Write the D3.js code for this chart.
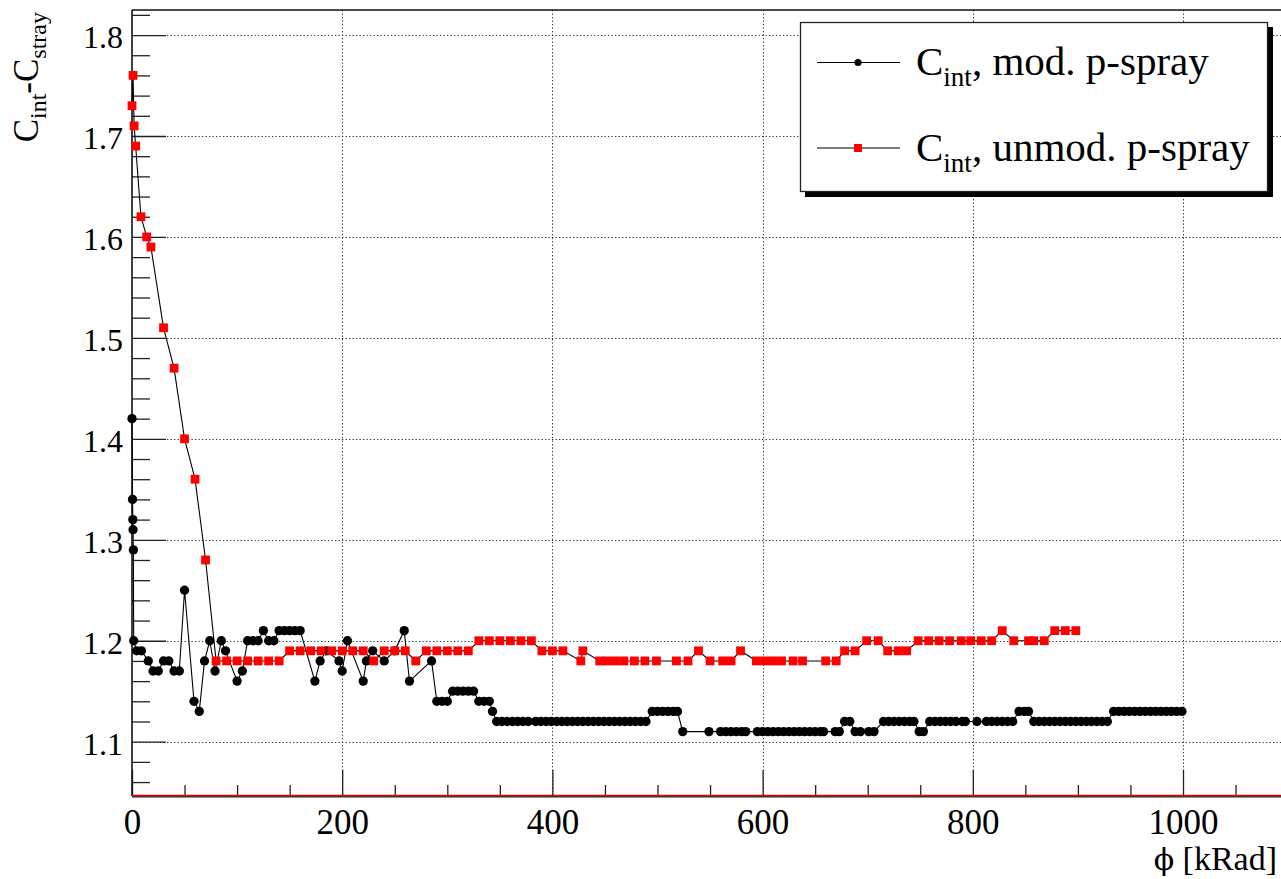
<!DOCTYPE html>
<html>
<head>
<meta charset="utf-8">
<script src="https://cdn.jsdelivr.net/npm/d3@7"></script>
<style>
  html, body { margin: 0; padding: 0; background: #fff; }
  svg { display: block; }
  text { font-family: "Liberation Serif", "Times New Roman", serif; fill: #000; }
</style>
</head>
<body>
<svg id="chart" width="1281" height="879"></svg>
<script>
// Interstrip capacitance vs. dose, modified p-spray sensor
const modDose = [0, 0.5, 0.8, 1, 1.3, 1.6, 4.5, 9, 15.5, 20, 25, 30, 35, 40, 45, 50, 59, 64, 69, 74, 79, 85, 89,
  100, 105, 110, 115, 120, 125, 130, 135, 140, 145, 150, 155, 160, 174, 179, 185, 197, 200, 205, 220, 223, 229,
  240, 250, 259, 264, 285, 290, 295, 300, 305, 310, 315, 320, 325, 330, 335, 340, 343, 347, 352, 357, 362, 367,
  372, 377, 384, 389, 394, 399, 404, 409, 414, 419, 424, 429, 434, 439, 444, 449, 454, 459, 464, 469, 474, 479,
  484, 489, 495, 500, 505, 510, 515, 519, 524, 549, 560, 565, 570, 575, 580, 584, 595, 600, 605, 610, 615, 620,
  625, 630, 635, 640, 645, 650, 655, 658, 669, 673, 678, 683, 688, 693, 701, 706, 715, 720, 725, 730, 735, 740,
  744, 749, 753, 759, 764, 769, 774, 779, 784, 790, 793, 804, 813, 818, 823, 828, 833, 838, 844, 849, 853, 858,
  863, 868, 873, 878, 883, 888, 893, 898, 903, 908, 913, 918, 923, 928, 934, 939, 944, 949, 954, 959, 964, 969,
  974, 979, 984, 989, 994, 999];
const modCint = [1.42, 1.34, 1.32, 1.31, 1.29, 1.20, 1.19, 1.19, 1.18, 1.17, 1.17, 1.18, 1.18, 1.17, 1.17, 1.25,
  1.14, 1.13, 1.18, 1.20, 1.17, 1.20, 1.19,
  1.16, 1.17, 1.20, 1.20, 1.20, 1.21, 1.20, 1.20, 1.21, 1.21, 1.21, 1.21, 1.21, 1.16, 1.18, 1.19, 1.18, 1.17,
  1.20, 1.16, 1.18, 1.19,
  1.18, 1.19, 1.21, 1.16, 1.18, 1.14, 1.14, 1.14, 1.15, 1.15, 1.15, 1.15, 1.15, 1.14, 1.14, 1.14, 1.13, 1.12,
  1.12, 1.12, 1.12, 1.12,
  1.12, 1.12, 1.12, 1.12, 1.12, 1.12, 1.12, 1.12, 1.12, 1.12, 1.12, 1.12, 1.12, 1.12, 1.12, 1.12, 1.12, 1.12,
  1.12, 1.12, 1.12, 1.12,
  1.12, 1.12, 1.13, 1.13, 1.13, 1.13, 1.13, 1.13, 1.11, 1.11, 1.11, 1.11, 1.11, 1.11, 1.11, 1.11, 1.11, 1.11,
  1.11, 1.11, 1.11, 1.11,
  1.11, 1.11, 1.11, 1.11, 1.11, 1.11, 1.11, 1.11, 1.11, 1.11, 1.12, 1.12, 1.11, 1.11, 1.11, 1.11, 1.12, 1.12,
  1.12, 1.12, 1.12, 1.12,
  1.12, 1.11, 1.11, 1.12, 1.12, 1.12, 1.12, 1.12, 1.12, 1.12, 1.12, 1.12, 1.12, 1.12, 1.12, 1.12, 1.12, 1.12,
  1.13, 1.13, 1.13, 1.12,
  1.12, 1.12, 1.12, 1.12, 1.12, 1.12, 1.12, 1.12, 1.12, 1.12, 1.12, 1.12, 1.12, 1.12, 1.13, 1.13, 1.13, 1.13,
  1.13, 1.13, 1.13, 1.13,
  1.13, 1.13, 1.13, 1.13, 1.13, 1.13];

// Interstrip capacitance vs. dose, unmodified p-spray sensor
const unmodDose = [0, 1, 2, 3.5, 8.5, 14, 18, 30, 40, 50, 60, 70, 80, 90, 100, 110, 120, 130, 140, 150, 160,
  170, 180, 190, 200, 210, 220, 230, 240, 250, 260, 270, 280, 290, 300, 310, 320, 330, 340, 350, 360, 370, 380,
  390, 400, 410, 427, 429, 445, 452, 460, 468, 478, 488, 499, 518, 529, 539, 550, 562, 570, 579, 594, 602, 610,
  618, 629, 638, 660, 670, 678, 688, 699, 710, 719, 729, 737, 748, 758, 768, 778, 789, 798, 808, 818, 828, 839,
  853, 858, 868, 878, 888, 898];
const unmodCint = [1.73, 1.76, 1.71, 1.69, 1.62, 1.60, 1.59, 1.51, 1.47, 1.40, 1.36, 1.28, 1.18, 1.18, 1.18,
  1.18, 1.18, 1.18, 1.18, 1.19, 1.19,
  1.19, 1.19, 1.19, 1.19, 1.19, 1.19, 1.18, 1.19, 1.19, 1.19, 1.18, 1.19, 1.19, 1.19, 1.19, 1.19, 1.20, 1.20,
  1.20, 1.20, 1.20, 1.20,
  1.19, 1.19, 1.19, 1.18, 1.19, 1.18, 1.18, 1.18, 1.18, 1.18, 1.18, 1.18, 1.18, 1.18, 1.19, 1.18, 1.18, 1.18,
  1.19, 1.18, 1.18, 1.18,
  1.18, 1.18, 1.18, 1.18, 1.18, 1.19, 1.19, 1.20, 1.20, 1.19, 1.19, 1.19, 1.20, 1.20, 1.20, 1.20, 1.20, 1.20,
  1.20, 1.20, 1.21, 1.20,
  1.20, 1.20, 1.20, 1.21, 1.21, 1.21];

const xMajorTicks = [0, 200, 400, 600, 800, 1000];
const yMajorTicks = [1.1, 1.2, 1.3, 1.4, 1.5, 1.6, 1.7, 1.8];

const legendLabels = [
  { main: "C", sub: "int", rest: ", mod. p-spray", marker: "circle", color: "#000" },
  { main: "C", sub: "int", rest: ", unmod. p-spray", marker: "square", color: "#ff0000" }
];

const svg = d3.select("#chart");
const W = 1281, H = 879;
const frameLeft = 132, frameTop = 10, frameBottom = 796;

const x = d3.scaleLinear().domain([0, 1100]).range([frameLeft, frameLeft + 1100 * 1.051]);
const y = d3.scaleLinear().domain([1.0462, 1.8248]).range([frameBottom, frameTop]);

svg.append("rect").attr("width", W).attr("height", H).attr("fill", "#fff");

// dotted grid
const grid = svg.append("g").attr("stroke", "#333").attr("stroke-width", 1)
  .attr("stroke-dasharray", "1.3,2.2").attr("fill", "none");
grid.selectAll("line.gx").data(xMajorTicks.filter(d => d > 0)).join("line")
  .attr("x1", d => Math.round(x(d)) + 0.5).attr("x2", d => Math.round(x(d)) + 0.5)
  .attr("y1", frameTop).attr("y2", frameBottom);
grid.selectAll("line.gy").data(yMajorTicks).join("line")
  .attr("x1", frameLeft).attr("x2", W)
  .attr("y1", d => Math.round(y(d)) + 0.5).attr("y2", d => Math.round(y(d)) + 0.5);

// x axis: minor and major ticks pointing into the frame
const xMinor = d3.range(0, 1101, 50).filter(d => !xMajorTicks.includes(d));
const xAxisMinor = d3.axisBottom(x).tickValues(xMinor).tickSize(-11).tickFormat("").tickSizeOuter(0);
const xAxisMajor = d3.axisBottom(x).tickValues(xMajorTicks).tickSize(-26).tickPadding(13)
  .tickFormat(d3.format("d")).tickSizeOuter(0);
const gxMinor = svg.append("g").attr("transform", `translate(0,${frameBottom})`).call(xAxisMinor);
const gxMajor = svg.append("g").attr("transform", `translate(0,${frameBottom})`).call(xAxisMajor);
[gxMinor, gxMajor].forEach(g => {
  g.select(".domain").remove();
  g.selectAll(".tick line").attr("stroke", "#222").attr("stroke-width", 1.3);
});
gxMajor.selectAll(".tick text").attr("font-size", 35).attr("font-family", "Liberation Serif, serif");

// y axis
const yMinor = d3.range(1.06, 1.821, 0.02).map(v => +v.toFixed(2))
  .filter(v => !yMajorTicks.some(t => Math.abs(t - v) < 1e-6));
const yAxisMinor = d3.axisLeft(y).tickValues(yMinor).tickSize(-18).tickFormat("").tickSizeOuter(0);
const yAxisMajor = d3.axisLeft(y).tickValues(yMajorTicks).tickSize(-34).tickPadding(9)
  .tickFormat(d3.format(".1f")).tickSizeOuter(0);
const gyMinor = svg.append("g").attr("transform", `translate(${frameLeft},0)`).call(yAxisMinor);
const gyMajor = svg.append("g").attr("transform", `translate(${frameLeft},0)`).call(yAxisMajor);
[gyMinor, gyMajor].forEach(g => {
  g.select(".domain").remove();
  g.selectAll(".tick line").attr("stroke", "#222").attr("stroke-width", 1.3);
});
gyMajor.selectAll(".tick text").attr("font-size", 32).attr("dy", "0.4em")
  .attr("font-family", "Liberation Serif, serif");

// frame
svg.append("line").attr("x1", frameLeft).attr("x2", frameLeft).attr("y1", frameTop).attr("y2", frameBottom)
  .attr("stroke", "#111").attr("stroke-width", 1.6);
svg.append("line").attr("x1", frameLeft).attr("x2", W).attr("y1", frameTop).attr("y2", frameTop)
  .attr("stroke", "#111").attr("stroke-width", 1.6);
svg.append("line").attr("x1", frameLeft).attr("x2", W).attr("y1", frameBottom + 0.8).attr("y2", frameBottom + 0.8)
  .attr("stroke", "#333").attr("stroke-width", 1.4);
svg.append("line").attr("x1", frameLeft).attr("x2", W).attr("y1", frameBottom - 0.6).attr("y2", frameBottom - 0.6)
  .attr("stroke", "#ee0000").attr("stroke-width", 1.5);

// series
const line = d3.line().x(d => x(d[0])).y(d => y(d[1]));
const modPts = modDose.map((d, i) => [d, modCint[i]]);
const unmodPts = unmodDose.map((d, i) => [d, unmodCint[i]]);

const plot = svg.append("g");
plot.append("path").datum(modPts).attr("d", line).attr("fill", "none")
  .attr("stroke", "#000").attr("stroke-width", 1.1);
plot.append("g").selectAll("path").data(modPts).join("path")
  .attr("transform", d => `translate(${x(d[0])},${y(d[1])})`)
  .attr("d", d3.symbol(d3.symbolCircle, 68))
  .attr("fill", "#000");

plot.append("path").datum(unmodPts).attr("d", line).attr("fill", "none")
  .attr("stroke", "#000").attr("stroke-width", 1.1);
plot.append("g").selectAll("rect").data(unmodPts).join("rect")
  .attr("x", d => x(d[0]) - 4.4).attr("y", d => y(d[1]) - 4.4)
  .attr("width", 8.8).attr("height", 8.8).attr("fill", "#ff0000");

// axis titles
const xt = svg.append("text").attr("x", 1277).attr("y", 870).attr("text-anchor", "end")
  .attr("font-size", 34);
xt.append("tspan").attr("font-family", "DejaVu Serif, serif").attr("font-size", 30).text("\u03D5");
xt.append("tspan").text(" [kRad]");

const yt = svg.append("text").attr("transform", "translate(38,12) rotate(-90)")
  .attr("text-anchor", "end").attr("font-size", 35);
yt.append("tspan").text("C");
yt.append("tspan").attr("font-size", 24).attr("dy", 8).text("int");
yt.append("tspan").attr("dy", -8).text("-C");
yt.append("tspan").attr("font-size", 24).attr("dy", 8).text("stray");

// legend
const lg = svg.append("g");
lg.append("rect").attr("x", 805).attr("y", 27).attr("width", 468).attr("height", 170).attr("fill", "#000");
lg.append("rect").attr("x", 800.5).attr("y", 22.5).attr("width", 467).attr("height", 169)
  .attr("fill", "#fff").attr("stroke", "#222").attr("stroke-width", 1.3);
const rowY = [62.5, 148];
legendLabels.forEach((e, i) => {
  const g = lg.append("g").attr("transform", `translate(0,${rowY[i]})`);
  g.append("line").attr("x1", 817).attr("x2", 900).attr("y1", 0).attr("y2", 0)
    .attr("stroke", "#000").attr("stroke-width", 1.1);
  if (e.marker === "circle") {
    g.append("path").attr("transform", "translate(858,0)").attr("d", d3.symbol(d3.symbolCircle, 40))
      .attr("fill", e.color);
  } else {
    g.append("rect").attr("x", 854).attr("y", -4).attr("width", 8).attr("height", 8).attr("fill", e.color);
  }
  const t = g.append("text").attr("x", 916).attr("y", 12.5).attr("font-size", 41);
  t.append("tspan").text(e.main);
  t.append("tspan").attr("font-size", 27).attr("dy", 11).text(e.sub);
  t.append("tspan").attr("dy", -11).text(e.rest);
});
</script>
</body>
</html>
